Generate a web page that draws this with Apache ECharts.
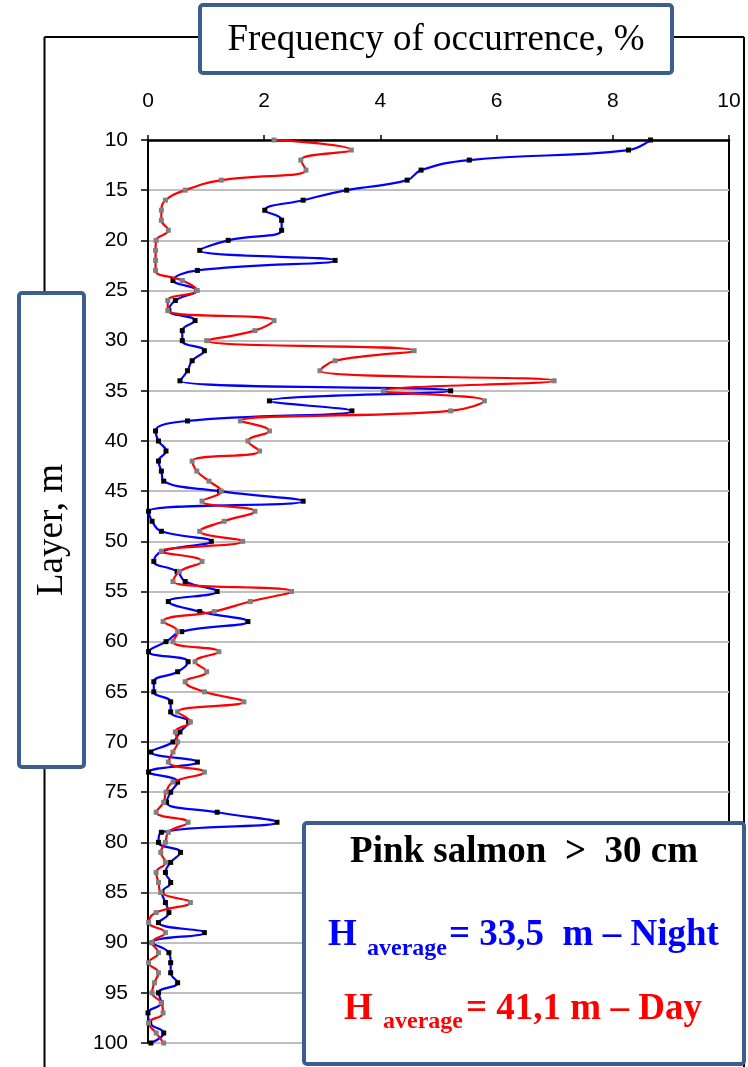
<!DOCTYPE html>
<html>
<head>
<meta charset="utf-8">
<style>
html,body{margin:0;padding:0;background:#fff;}
#chart{width:748px;height:1067px;}
</style>
<script src="https://cdn.jsdelivr.net/npm/echarts@6/dist/echarts.min.js"></script>
</head>
<body>
<div id="chart"></div>
<script>
// Depth layers (m)
const depths = [10,11,12,13,14,15,16,17,18,19,20,21,22,23,24,25,26,27,28,29,30,31,32,33,34,35,36,37,38,39,40,41,42,43,44,45,46,47,48,49,50,51,52,53,54,55,56,57,58,59,60,61,62,63,64,65,66,67,68,69,70,71,72,73,74,75,76,77,78,79,80,81,82,83,84,85,86,87,88,89,90,91,92,93,94,95,96,97,98,99,100];
// Night frequency of occurrence, % (blue line, black markers)
const night = [8.65,8.27,5.53,4.70,4.46,3.42,2.67,2.01,2.30,2.30,1.38,0.89,3.22,0.85,0.43,0.84,0.47,0.36,0.81,0.59,0.59,0.97,0.76,0.68,0.55,5.21,2.09,3.51,0.68,0.13,0.18,0.31,0.18,0.23,0.27,1.23,2.67,0.01,0.07,0.23,1.09,0.24,0.10,0.50,0.64,1.19,0.35,0.89,1.72,0.58,0.31,0.01,0.69,0.51,0.10,0.10,0.39,0.39,0.70,0.55,0.43,0.05,0.85,0.01,0.51,0.39,0.32,1.19,2.22,0.23,0.18,0.56,0.39,0.30,0.39,0.24,0.30,0.36,0.18,0.97,0.07,0.36,0.39,0.39,0.51,0.18,0.23,0.00,0.03,0.27,0.05];
// Day frequency of occurrence, % (red line, grey markers)
const day = [2.17,3.50,2.63,2.72,1.26,0.64,0.30,0.23,0.23,0.35,0.14,0.13,0.13,0.13,0.59,0.84,0.34,0.34,2.17,1.84,1.01,4.58,3.22,2.96,6.99,4.05,5.79,5.21,1.59,2.09,1.72,1.92,0.76,0.84,1.05,1.26,0.93,1.84,1.31,0.89,1.63,0.23,0.93,0.54,0.43,2.47,1.76,1.14,0.26,0.51,0.43,1.22,0.81,1.01,0.64,0.97,1.65,0.51,0.73,0.47,0.51,0.43,0.35,0.97,0.43,0.31,0.27,0.14,0.69,0.35,0.30,0.22,0.30,0.14,0.18,0.22,0.73,0.14,0.01,0.30,0.07,0.18,0.01,0.18,0.11,0.07,0.23,0.26,0.01,0.14,0.27];

const xTitle = 'Frequency of occurrence, %';
const yTitle = 'Layer, m';
const legendTitle = 'Pink salmon  >  30 cm';
const nightText = '= 33,5  m \u2013 Night';
const dayText = '= 41,1 m \u2013 Day';

const chart = echarts.init(document.getElementById('chart'), null, {renderer:'canvas'});
const boxColor = '#3B5E8C';
const serif = '"Liberation Serif","Times New Roman",serif';
const sans = '"Liberation Sans",Arial,sans-serif';

const option = {
  animation: false,
  backgroundColor: '#fff',
  grid: {left:148, right:19, top:140, bottom:24, show:true, borderColor:'#000', borderWidth:2},
  xAxis: {
    type:'value', position:'top', min:0, max:10, interval:2,
    axisLine:{show:true, lineStyle:{color:'#000', width:2.5}},
    axisTick:{show:true, length:5, lineStyle:{color:'#000', width:1.5}},
    axisLabel:{margin:28, fontSize:21, fontFamily:sans, color:'#000'},
    splitLine:{show:false}
  },
  yAxis: {
    type:'value', inverse:true, min:10, max:100, interval:5,
    axisLine:{show:true, onZero:false, lineStyle:{color:'#000', width:2}},
    axisTick:{show:true, length:7, lineStyle:{color:'#000', width:1.5}},
    axisLabel:{margin:20, fontSize:21, fontFamily:sans, color:'#000'},
    splitLine:{show:true, lineStyle:{color:'#BFBFBF', width:2}}
  },
  series: [
    {
      type:'line', name:'Night',
      data: depths.map((d,i)=>[night[i], d]),
      smooth:0.45,
      symbol:'rect', symbolSize:5,
      itemStyle:{color:'#000'},
      lineStyle:{color:'#0000FF', width:2.2},
      z:2
    },
    {
      type:'line', name:'Day',
      data: depths.map((d,i)=>[day[i], d]),
      smooth:0.45,
      symbol:'rect', symbolSize:5,
      itemStyle:{color:'#808080'},
      lineStyle:{color:'#FF0000', width:2.2},
      z:3
    }
  ],
  graphic: [
    // outer frame
    {type:'line', shape:{x1:44.5, y1:37, x2:744, y2:37}, style:{stroke:'#000', lineWidth:2}, z:1},
    {type:'line', shape:{x1:44.5, y1:37, x2:44.5, y2:1067}, style:{stroke:'#000', lineWidth:2}, z:1},
    {type:'line', shape:{x1:744, y1:37, x2:744, y2:1067}, style:{stroke:'#000', lineWidth:2}, z:1},
    // title box
    {type:'rect', shape:{x:200, y:5, width:472, height:68, r:3}, style:{fill:'#fff', stroke:boxColor, lineWidth:4}, z:10},
    {type:'text', x:436, y:40, style:{text:xTitle, font:'37px '+serif, fill:'#000', align:'center', verticalAlign:'middle'}, z:11},
    // y label box
    {type:'rect', shape:{x:19, y:293, width:65, height:474, r:3}, style:{fill:'#fff', stroke:boxColor, lineWidth:4}, z:10},
    {type:'text', x:52, y:530, rotation:Math.PI/2, style:{text:yTitle, font:'37px '+serif, fill:'#000', align:'center', verticalAlign:'middle'}, z:11},
    // legend box
    {type:'rect', shape:{x:304, y:823, width:440, height:241, r:3}, style:{fill:'#fff', stroke:boxColor, lineWidth:4}, z:10},
    {type:'text', x:524, y:852, style:{text:legendTitle, font:'bold 37px '+serif, fill:'#000', align:'center', verticalAlign:'middle'}, z:11},
    {type:'text', x:328, y:935, style:{text:'H', font:'bold 37px '+serif, fill:'#0000FF', align:'left', verticalAlign:'middle'}, z:11},
    {type:'text', x:367, y:949, style:{text:'average', font:'bold 24px '+serif, fill:'#0000FF', align:'left', verticalAlign:'middle'}, z:11},
    {type:'text', x:449, y:935, style:{text:nightText, font:'bold 37px '+serif, fill:'#0000FF', align:'left', verticalAlign:'middle'}, z:11},
    {type:'text', x:344, y:1009, style:{text:'H', font:'bold 37px '+serif, fill:'#FF0000', align:'left', verticalAlign:'middle'}, z:11},
    {type:'text', x:383, y:1022, style:{text:'average', font:'bold 24px '+serif, fill:'#FF0000', align:'left', verticalAlign:'middle'}, z:11},
    {type:'text', x:466, y:1009, style:{text:dayText, font:'bold 37px '+serif, fill:'#FF0000', align:'left', verticalAlign:'middle'}, z:11}
  ]
};
chart.setOption(option);
</script>
</body>
</html>
